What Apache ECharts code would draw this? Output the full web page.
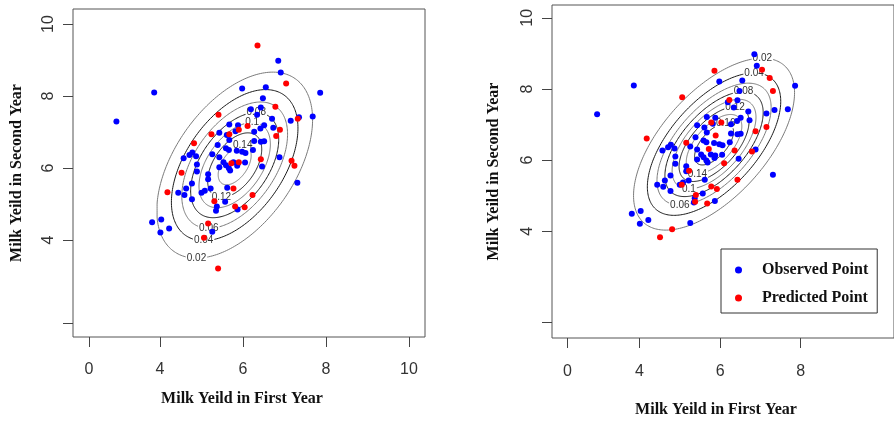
<!DOCTYPE html>
<html>
<head>
<meta charset="utf-8">
<script src="https://cdn.jsdelivr.net/npm/echarts@6/dist/echarts.min.js"></script>
<style>
  html, body { margin: 0; padding: 0; background: #fff; }
  #chart { width: 894px; height: 423px; }
</style>
</head>
<body>
<div id="chart"></div>
<script>
// observed points are the same in both panels
const observedPoints = [
  [2.95, 7.29], [3.86, 8.10], [6.85, 8.98], [6.91, 8.65], [7.86, 8.09], [7.68, 7.43],
  [5.98, 8.21], [6.55, 8.24], [6.48, 7.94], [6.19, 7.63], [6.43, 7.68], [6.34, 7.48],
  [6.70, 7.37], [7.15, 7.31], [7.35, 7.41], [6.73, 7.12], [6.51, 7.19], [6.42, 7.10],
  [6.27, 7.01], [5.67, 7.21], [5.88, 7.19], [5.82, 7.02], [5.43, 6.98], [5.61, 6.92],
  [5.67, 6.78], [5.39, 6.64], [5.59, 6.55], [5.66, 6.50], [5.85, 6.48], [5.98, 6.45],
  [6.06, 6.42], [6.27, 6.75], [6.43, 6.73], [6.51, 6.74], [6.24, 6.50], [4.57, 6.27],
  [4.71, 6.36], [4.78, 6.43], [4.87, 6.33], [5.26, 6.38], [5.43, 6.30], [4.89, 6.10],
  [4.89, 5.90], [5.16, 5.83], [5.16, 5.69], [4.77, 5.57], [4.63, 5.43], [4.59, 5.25],
  [4.44, 5.31], [4.77, 5.13], [5.00, 5.31], [5.08, 5.37], [5.22, 5.43], [5.43, 6.02],
  [5.53, 6.16], [5.59, 6.08], [5.66, 5.99], [5.69, 5.93], [5.77, 6.16], [5.88, 6.13],
  [6.05, 6.15], [5.86, 6.06], [6.46, 6.04], [6.88, 6.30], [7.31, 5.59], [5.62, 5.45],
  [5.57, 5.06], [5.87, 4.85], [5.37, 4.93], [5.35, 4.81], [3.81, 4.49], [4.03, 4.57],
  [4.01, 4.21], [4.22, 4.32], [5.26, 4.23]
];

const predictedLeft = [
  [6.35, 9.40], [7.04, 8.35], [6.78, 7.70], [7.32, 7.37], [6.89, 7.06], [6.80, 6.89],
  [5.41, 7.48], [5.24, 6.94], [5.67, 6.94], [5.90, 7.06], [6.11, 7.17], [4.82, 6.69],
  [4.52, 5.87], [4.18, 5.33], [5.72, 6.13], [5.90, 6.16], [6.43, 6.24], [7.17, 6.20],
  [7.24, 6.06], [5.77, 5.43], [6.23, 5.25], [5.31, 5.08], [5.81, 4.93], [6.04, 4.91],
  [5.16, 4.46], [5.06, 4.06], [5.40, 3.21]
];

const predictedRight = [
  [5.86, 8.51], [7.04, 8.54], [7.23, 8.31], [7.31, 7.94], [5.06, 7.77], [6.23, 7.69],
  [5.78, 7.06], [6.03, 7.06], [5.89, 6.69], [4.18, 6.61], [5.16, 6.49], [5.72, 6.31],
  [6.36, 6.27], [6.79, 6.24], [6.88, 6.81], [7.15, 6.93], [6.10, 5.91], [5.23, 5.70],
  [6.43, 5.45], [5.05, 5.31], [5.78, 5.26], [5.92, 5.19], [5.40, 5.02], [5.38, 4.83],
  [5.68, 4.78], [4.81, 4.06], [4.51, 3.83]
];

// density contours (bivariate normal) drawn in each panel
const leftLevels = [0.02, 0.04, 0.06, 0.08, 0.1, 0.12, 0.14];
const leftLabelSide = ['bottom', 'bottom', 'bottom', 'top', 'top', 'bottom', 'top'];
const leftMean = [5.8, 6.08];
const leftSd = [0.93, 1.28];
const leftRho = 0.49;
const leftGridFloor = [3.93, -Infinity];

const rightLevels = [0.02, 0.04, 0.06, 0.08, 0.1, 0.12, 0.14, 0.16];
const rightLabelSide = ['top', 'top', 'bottom', 'top', 'bottom', 'top', 'bottom', 'top'];
const rightMean = [5.85, 6.45];
const rightSd = [0.95, 1.15];
const rightRho = 0.6;
const rightGridFloor = [-Infinity, -Infinity];

// tick positions and their printed labels
const leftXTicks = [2.289, 4, 6, 8, 10];
const leftXLabels = ['0', '4', '6', '8', '10'];
const leftYTicks = [1.694, 4, 6, 8, 10];
const leftYLabels = ['', '4', '6', '8', '10'];
const rightXTicks = [2.217, 4, 6, 8];
const rightXLabels = ['0', '4', '6', '8'];
const rightYTicks = [1.444, 4, 6, 8, 10];
const rightYLabels = ['', '4', '6', '8', '10'];

const chart = echarts.init(document.getElementById('chart'));

function labelFor(v, ticks, labels) {
  for (let i = 0; i < ticks.length; i++) {
    if (Math.abs(ticks[i] - v) < 1e-6) return labels[i];
  }
  return '';
}

function contourRenderer(levels, sides, mean, sd, rho, floor) {
  const s = Math.sqrt(1 - rho * rho);
  const fmax = 1 / (2 * Math.PI * sd[0] * sd[1] * s);
  return function (params, api) {
    const i = params.dataIndex;
    const level = levels[i];
    const r = Math.sqrt(-2 * Math.log(level / fmax));
    const pts = [];
    for (let k = 0; k <= 240; k++) {
      const t = k / 240 * 2 * Math.PI;
      let x = mean[0] + sd[0] * r * Math.cos(t);
      let y = mean[1] + sd[1] * r * (rho * Math.cos(t) + s * Math.sin(t));
      x = Math.max(x, floor[0]);
      y = Math.max(y, floor[1]);
      pts.push(api.coord([x, y]));
    }
    const t0 = Math.atan2(s, rho) + (sides[i] === 'bottom' ? Math.PI : 0);
    const lp = api.coord([
      mean[0] + sd[0] * r * Math.cos(t0),
      mean[1] + sd[1] * r * (rho * Math.cos(t0) + s * Math.sin(t0))
    ]);
    return {
      type: 'group',
      children: [
        {
          type: 'polyline',
          shape: { points: pts },
          style: { stroke: i % 2 ? '#1a1a1a' : '#7a7a7a', lineWidth: 1, fill: null }
        },
        {
          type: 'text',
          x: lp[0],
          y: lp[1],
          style: {
            text: String(level),
            font: '10px "Liberation Sans"',
            fill: '#333',
            align: 'center',
            verticalAlign: 'middle',
            backgroundColor: '#fff',
            padding: [0, 1]
          }
        }
      ]
    };
  };
}

function xAxisFor(gridIndex, min, max, ticks, labels, margin, nameGap) {
  return {
    type: 'value',
    gridIndex: gridIndex,
    min: min,
    max: max,
    axisLine: { show: false },
    splitLine: { show: false },
    axisTick: { show: true, length: 10, customValues: ticks, lineStyle: { color: '#444' } },
    axisLabel: {
      customValues: ticks,
      formatter: v => labelFor(v, ticks, labels),
      margin: margin,
      fontSize: 16,
      fontFamily: 'Liberation Sans',
      color: '#333'
    },
    name: 'Milk Yeild in First Year',
    nameLocation: 'middle',
    nameGap: nameGap,
    nameTextStyle: {
      fontFamily: 'Liberation Serif',
      fontWeight: 'bold',
      fontSize: 16,
      color: '#111',
      padding: [0, 14, 0, 0]
    }
  };
}

function yAxisFor(gridIndex, min, max, ticks, labels, nameGap) {
  return {
    type: 'value',
    gridIndex: gridIndex,
    min: min,
    max: max,
    axisLine: { show: false },
    splitLine: { show: false },
    axisTick: { show: true, length: 10, customValues: ticks, lineStyle: { color: '#444' } },
    axisLabel: {
      customValues: ticks,
      formatter: v => labelFor(v, ticks, labels),
      rotate: 90,
      margin: 16,
      fontSize: 16,
      fontFamily: 'Liberation Sans',
      color: '#333'
    },
    name: 'Milk Yeild in Second Year',
    nameLocation: 'middle',
    nameGap: nameGap,
    nameTextStyle: {
      fontFamily: 'Liberation Serif',
      fontWeight: 'bold',
      fontSize: 16,
      color: '#111'
    }
  };
}

const option = {
  backgroundColor: '#fff',
  animation: false,
  grid: [
    { left: 73, top: 9, width: 352, height: 328, show: true, borderColor: '#555', borderWidth: 1 },
    { left: 552, top: 5, width: 352, height: 337, show: true, borderColor: '#555', borderWidth: 1 }
  ],
  xAxis: [
    xAxisFor(0, 1.904, 10.386, leftXTicks, leftXLabels, 25, 54),
    xAxisFor(1, 1.831, 10.313, rightXTicks, rightXLabels, 26, 64)
  ],
  yAxis: [
    yAxisFor(0, 1.306, 10.417, leftYTicks, leftYLabels, 48),
    yAxisFor(1, 1.0, 10.361, rightYTicks, rightYLabels, 50)
  ],
  legend: {
    orient: 'vertical',
    left: 721,
    top: 249,
    padding: [12, 9, 6, 14],
    itemGap: 10,
    itemWidth: 7,
    itemHeight: 7,
    icon: 'circle',
    backgroundColor: '#fff',
    borderColor: '#333',
    borderWidth: 1,
    borderRadius: 0,
    textStyle: {
      fontFamily: 'Liberation Serif',
      fontWeight: 'bold',
      fontSize: 16,
      color: '#111',
      lineHeight: 18,
      padding: [0, 0, 0, 15]
    },
    data: ['Observed Point', 'Predicted Point']
  },
  series: [
    {
      type: 'custom',
      xAxisIndex: 0,
      yAxisIndex: 0,
      z: 1,
      silent: true,
      clip: true,
      renderItem: contourRenderer(leftLevels, leftLabelSide, leftMean, leftSd, leftRho, leftGridFloor),
      data: leftLevels.map(v => [v])
    },
    {
      type: 'custom',
      xAxisIndex: 1,
      yAxisIndex: 1,
      z: 1,
      silent: true,
      clip: true,
      renderItem: contourRenderer(rightLevels, rightLabelSide, rightMean, rightSd, rightRho, rightGridFloor),
      data: rightLevels.map(v => [v])
    },
    {
      name: 'Observed Point', type: 'scatter', xAxisIndex: 0, yAxisIndex: 0, z: 3,
      symbolSize: 6, itemStyle: { color: '#0000ff', opacity: 1 }, data: observedPoints
    },
    {
      name: 'Predicted Point', type: 'scatter', xAxisIndex: 0, yAxisIndex: 0, z: 4,
      symbolSize: 6, itemStyle: { color: '#ff0000', opacity: 1 }, data: predictedLeft
    },
    {
      name: 'Observed Point', type: 'scatter', xAxisIndex: 1, yAxisIndex: 1, z: 3,
      symbolSize: 6, itemStyle: { color: '#0000ff', opacity: 1 }, data: observedPoints
    },
    {
      name: 'Predicted Point', type: 'scatter', xAxisIndex: 1, yAxisIndex: 1, z: 4,
      symbolSize: 6, itemStyle: { color: '#ff0000', opacity: 1 }, data: predictedRight
    }
  ]
};

chart.setOption(option);
</script>
</body>
</html>
